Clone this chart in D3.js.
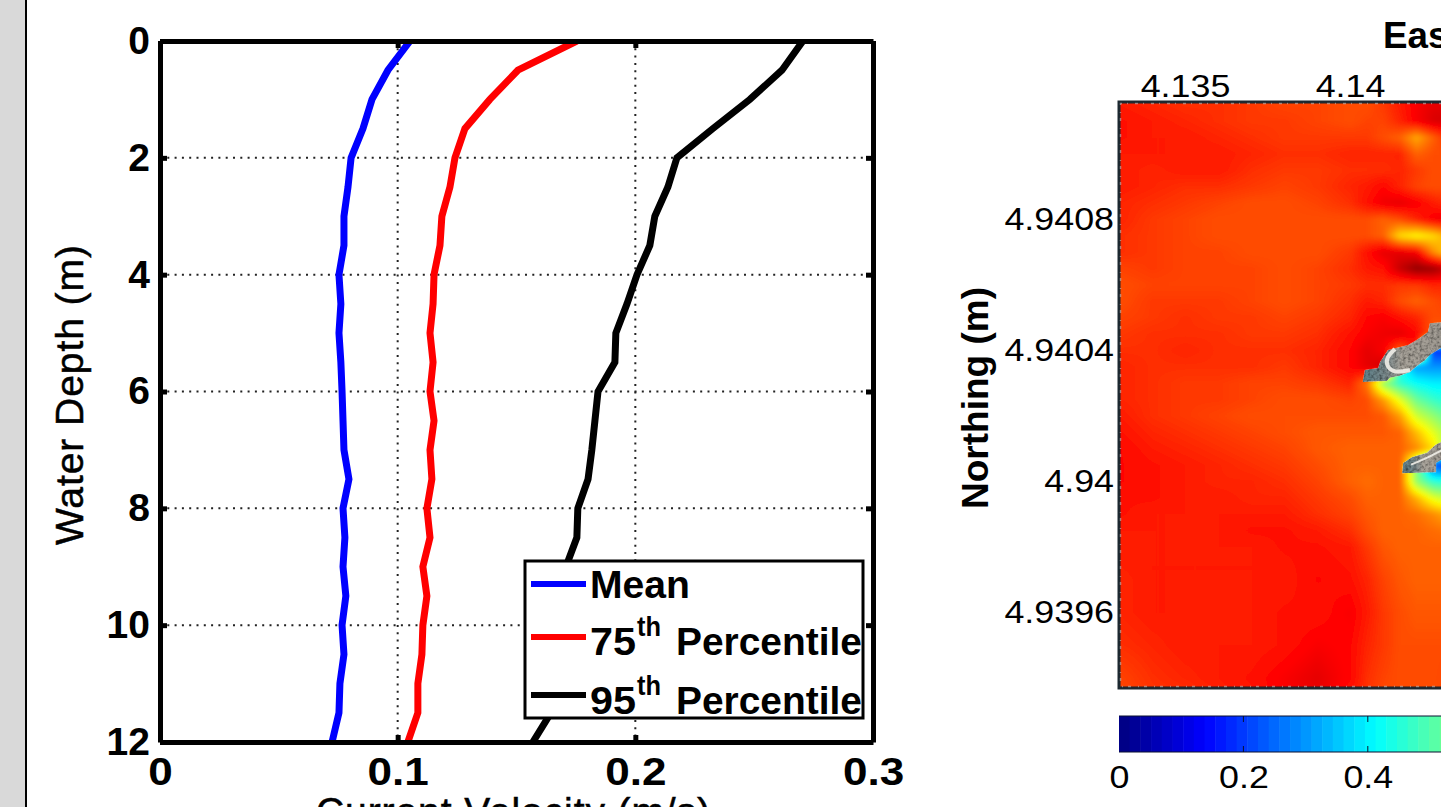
<!DOCTYPE html>
<html>
<head>
<meta charset="utf-8">
<script src="https://cdn.jsdelivr.net/npm/d3@7/dist/d3.min.js"></script>
<style>
  html, body { margin: 0; padding: 0; background: #fff; overflow: hidden; }
  svg { display: block; font-family: "Liberation Sans", Arial, sans-serif; }
  .bold text { font-weight: bold; }
</style>
</head>
<body>
<svg id="fig" width="1441" height="807"></svg>
<script>
////////////////////////////////////////////////////////////////////////////////
// Left: current velocity profiles. Right: velocity map with colorbar
////////////////////////////////////////////////////////////////////////////////

// Profile data, one value per 0.5 m of depth
const depths = [0, 0.5, 1, 1.5, 2, 2.5, 3, 3.5, 4, 4.5, 5, 5.5, 6, 6.5, 7, 7.5, 8, 8.5, 9, 9.5, 10, 10.5, 11, 11.5, 12];
const meanVel = [.1052, .0959, .0892, .0854, .0804, .0791, .0774, .0774, .0753, .0761, .0753, .0761, .0766, .0770, .0774, .0795, .0770, .0778, .0770, .0782, .0766, .0774, .0757, .0753, .0724];
const p75Vel = [.1754, .1506, .1388, .1283, .1241, .1220, .1186, .1178, .1153, .1149, .1136, .1149, .1136, .1153, .1136, .1144, .1123, .1136, .1106, .1123, .1106, .1102, .1085, .1085, .1043];
const p95Vel = [.2705, .2617, .2482, .2326, .2175, .2137, .2082, .2061, .2007, .1965, .1918, .1914, .1843, .1830, .1817, .1801, .1758, .1754, .1708, .1695, .1683, .1670, .1666, .1645, .1569];
const velTicks = [0, 0.1, 0.2, 0.3];
const depthTicks = [0, 2, 4, 6, 8, 10, 12];

// Map data, rows run north to south
const mapEasting = [413300, 413400, 413500, 413600, 413700, 413800, 413900, 414000, 414050, 414100, 414150, 414200, 414250, 414300];
const mapNorthing = [4941200, 4941150, 4941100, 4941050, 4941000, 4940950, 4940900, 4940850, 4940800, 4940750, 4940700, 4940650, 4940600, 4940550, 4940500, 4940450, 4940400, 4940350, 4940300, 4940250, 4940200, 4940150, 4940100, 4940050, 4940000, 4939950, 4939900, 4939850, 4939800, 4939700, 4939600, 4939500, 4939400, 4939300];
const mapValues = [
  [.84, .84, .83, .83, .82, .81, .81, .80, .80, .81, .84, .88, .90, .90],
  [.85, .84, .83, .83, .82, .81, .81, .80, .80, .82, .85, .88, .90, .90],
  [.86, .85, .84, .83, .82, .82, .81, .80, .81, .81, .84, .88, .91, .92],
  [.86, .85, .85, .84, .83, .82, .82, .82, .82, .80, .78, .71, .78, .84],
  [.85, .85, .85, .85, .84, .83, .83, .84, .84, .84, .84, .78, .80, .80],
  [.85, .84, .85, .85, .83, .82, .82, .83, .83, .83, .84, .82, .80, .80],
  [.85, .84, .83, .83, .82, .81, .82, .84, .85, .87, .84, .81, .80, .80],
  [.84, .83, .82, .81, .80, .80, .81, .83, .86, .89, .90, .88, .85, .83],
  [.84, .82, .81, .80, .80, .80, .80, .80, .80, .78, .80, .84, .88, .90],
  [.83, .82, .81, .80, .80, .80, .80, .80, .80, .78, .66, .63, .66, .72],
  [.83, .82, .81, .81, .80, .80, .80, .82, .86, .90, .90, .88, .74, .66],
  [.81, .82, .81, .81, .81, .80, .81, .83, .85, .86, .93, .98, .97, .92],
  [.80, .81, .81, .81, .81, .80, .81, .82, .83, .83, .82, .82, .84, .84],
  [.80, .82, .82, .82, .81, .80, .81, .83, .85, .84, .80, .78, .80, .82],
  [.81, .82, .83, .82, .82, .81, .82, .84, .87, .88, .86, .84, .80, .80],
  [.82, .83, .83, .83, .82, .82, .83, .86, .88, .89, .90, .87, .78, .78],
  [.83, .83, .84, .83, .83, .83, .84, .87, .90, .88, .78, .86, .18, .16],
  [.84, .83, .83, .83, .83, .82, .84, .87, .90, .92, .40, .28, .27, .27],
  [.84, .83, .82, .82, .81, .81, .82, .84, .76, .52, .42, .38, .36, .36],
  [.84, .83, .82, .82, .81, .80, .80, .81, .80, .72, .60, .48, .43, .40],
  [.85, .83, .82, .81, .80, .80, .80, .80, .80, .79, .72, .58, .52, .46],
  [.86, .84, .83, .82, .81, .80, .79, .79, .79, .79, .78, .69, .60, .52],
  [.87, .85, .84, .83, .82, .81, .79, .78, .78, .78, .78, .74, .66, .50],
  [.87, .86, .85, .84, .83, .82, .80, .78, .78, .78, .78, .50, .22, .14],
  [.87, .86, .85, .84, .84, .83, .81, .78, .77, .78, .78, .52, .42, .40],
  [.86, .86, .85, .85, .84, .84, .82, .80, .78, .78, .78, .70, .60, .55],
  [.86, .85, .85, .85, .85, .85, .83, .81, .79, .78, .78, .77, .74, .70],
  [.85, .85, .85, .85, .86, .86, .85, .83, .80, .78, .78, .78, .77, .76],
  [.85, .85, .85, .85, .85, .86, .86, .85, .82, .79, .78, .78, .78, .78],
  [.84, .85, .85, .85, .85, .85, .87, .86, .84, .81, .79, .78, .78, .78],
  [.84, .85, .85, .85, .85, .86, .86, .88, .85, .82, .80, .79, .79, .79],
  [.83, .84, .85, .85, .85, .86, .88, .87, .84, .82, .80, .80, .80, .80],
  [.81, .83, .84, .85, .86, .88, .90, .87, .83, .81, .80, .80, .80, .81],
  [.80, .82, .82, .84, .85, .88, .89, .85, .82, .80, .80, .80, .80, .80]
];
const eastTicks = [413500, 414000];
const northTicks = [4940800, 4940400, 4940000, 4939600];
const barTicks = [0, 0.2, 0.4];

// Breakwaters as [easting, northing]
const rockUpper = [[414039, 4940308], [414045, 4940339], [414085, 4940345], [414091, 4940363], [414115, 4940400], [414176, 4940415], [414203, 4940431], [414236, 4940455], [414242, 4940482], [414276, 4940485], [414300, 4940498], [414300, 4940420], [414276, 4940406], [414242, 4940385], [414227, 4940369], [414203, 4940351], [414182, 4940333], [414152, 4940321], [414121, 4940315], [414112, 4940305], [414039, 4940302]];
const rockLower = [[414158, 4940027], [414161, 4940055], [414188, 4940073], [414233, 4940086], [414258, 4940110], [414276, 4940119], [414300, 4940131], [414300, 4940079], [414276, 4940064], [414261, 4940055], [414261, 4940027], [414158, 4940024]];
const rockCrestUpper = [[414136, 4940403], [414109, 4940376], [414112, 4940348], [414136, 4940330], [414182, 4940339]];
const rockCrestLower = [[414185, 4940050], [414230, 4940068], [414300, 4940105]];

// Jet colormap
const jet = d3.scaleLinear()
  .domain([0, 0.125, 0.375, 0.625, 0.875, 1])
  .range(["#00007f", "#0000ff", "#00ffff", "#ffff00", "#ff0000", "#7f0000"])
  .clamp(true);

const svg = d3.select("#fig");

// Grey strip at the left edge of the page
svg.append("rect").attr("width", 25).attr("height", 807).attr("fill", "#d9d9d9");
svg.append("rect").attr("x", 25).attr("width", 2).attr("height", 807).attr("fill", "#000");

////////////////////////////////////////////////////////////////////////////////
// Left panel
////////////////////////////////////////////////////////////////////////////////
const x = d3.scaleLinear().domain([0, 0.3]).range([160, 873]);
const y = d3.scaleLinear().domain([0, 12]).range([41, 742]);

const defs = svg.append("defs");
defs.append("clipPath").attr("id", "plotClip").append("rect")
  .attr("x", x(0)).attr("y", y(0)).attr("width", x(0.3) - x(0)).attr("height", y(12) - y(0));

// Dotted grid
svg.append("g").selectAll("line").data(velTicks.slice(1, 3)).join("line")
  .attr("x1", d => x(d)).attr("x2", d => x(d)).attr("y1", y(0)).attr("y2", y(12))
  .attr("stroke", "#222").attr("stroke-width", 2).attr("stroke-dasharray", "2 5.3");
svg.append("g").selectAll("line").data(depthTicks.slice(1, 6)).join("line")
  .attr("x1", x(0)).attr("x2", x(0.3)).attr("y1", d => y(d)).attr("y2", d => y(d))
  .attr("stroke", "#222").attr("stroke-width", 2).attr("stroke-dasharray", "2 5.3");

const profile = d3.line().x(d => x(d[0])).y(d => y(d[1]));
const profiles = [
  { label: "Mean", values: meanVel, color: "#0000ff" },
  { label: "75", values: p75Vel, color: "#ff0000" },
  { label: "95", values: p95Vel, color: "#000000" }
];
svg.append("g").attr("clip-path", "url(#plotClip)")
  .selectAll("path").data(profiles).join("path")
  .attr("fill", "none")
  .attr("stroke", d => d.color)
  .attr("stroke-width", 7)
  .attr("d", d => profile(d.values.map((v, i) => [v, depths[i]])));

// Axes, the labelled ones plus a bare top and right
function styleAxis(g, size) {
  g.selectAll(".domain").attr("stroke", "#000").attr("stroke-width", 5);
  g.selectAll(".tick line").attr("stroke", "#000").attr("stroke-width", 5);
  g.selectAll("text").attr("fill", "#000").attr("font-size", size).attr("font-family", "Liberation Sans");
}
const axisLeft = svg.append("g").attr("class", "bold").attr("transform", `translate(${x(0)},0)`)
  .call(d3.axisLeft(y).tickValues(depthTicks).tickSizeInner(-7).tickSizeOuter(0).tickPadding(10).tickFormat(d => d));
const axisBottom = svg.append("g").attr("class", "bold").attr("transform", `translate(0,${y(12)})`)
  .call(d3.axisBottom(x).tickValues(velTicks).tickSizeInner(-7).tickSizeOuter(0).tickPadding(15).tickFormat(d => d));
const axisTop = svg.append("g").attr("transform", `translate(0,${y(0)})`)
  .call(d3.axisTop(x).tickValues(velTicks).tickSizeInner(-7).tickSizeOuter(0).tickFormat(""));
const axisRight = svg.append("g").attr("transform", `translate(${x(0.3)},0)`)
  .call(d3.axisRight(y).tickValues(depthTicks).tickSizeInner(-7).tickSizeOuter(0).tickFormat(""));
[axisLeft, axisBottom, axisTop, axisRight].forEach(g => styleAxis(g, 39));
// velocity labels run wider than the depth ones in the figure
axisBottom.selectAll("text").each(function () {
  d3.select(this).attr("textLength", this.getComputedTextLength() * 1.13).attr("lengthAdjust", "spacingAndGlyphs");
});

svg.append("text")
  .attr("transform", "translate(83,395) rotate(-90)")
  .attr("text-anchor", "middle")
  .attr("font-size", 39)
  .attr("stroke", "#000").attr("stroke-width", 0.5)
  .attr("textLength", 300)
  .text("Water Depth (m)");
svg.append("text")
  .attr("x", 513).attr("y", 825)
  .attr("text-anchor", "middle")
  .attr("font-size", 39)
  .attr("stroke", "#000").attr("stroke-width", 0.5)
  .attr("textLength", 394)
  .text("Current Velocity (m/s)");

// Legend
const legend = svg.append("g").attr("class", "bold");
legend.append("rect")
  .attr("x", 525).attr("y", 561).attr("width", 338).attr("height", 157)
  .attr("fill", "#fff").attr("stroke", "#000").attr("stroke-width", 3);
const legendRows = [23, 76, 134];
profiles.forEach((p, i) => {
  legend.append("line")
    .attr("x1", 531).attr("x2", 586)
    .attr("y1", 561 + legendRows[i]).attr("y2", 561 + legendRows[i])
    .attr("stroke", p.color).attr("stroke-width", 6);
});
const legendText = legend.append("g").attr("font-size", 38);
legendText.append("text").attr("x", 590).attr("y", 598)
  .attr("textLength", 100).attr("lengthAdjust", "spacingAndGlyphs").text("Mean");
[[profiles[1].label, 655], [profiles[2].label, 714]].forEach(([num, base]) => {
  legendText.append("text").attr("x", 590).attr("y", base)
    .attr("textLength", 46).attr("lengthAdjust", "spacingAndGlyphs").text(num);
  legendText.append("text").attr("x", 637).attr("y", base - 19).attr("font-size", 28)
    .attr("textLength", 24).attr("lengthAdjust", "spacingAndGlyphs").text("th");
  legendText.append("text").attr("x", 676).attr("y", base)
    .attr("textLength", 186).attr("lengthAdjust", "spacingAndGlyphs").text("Percentile");
});

////////////////////////////////////////////////////////////////////////////////
// Right panel
////////////////////////////////////////////////////////////////////////////////
const east = d3.scaleLinear().domain([413500, 414000]).range([1185, 1350]);
const north = d3.scaleLinear().domain([4940800, 4940400]).range([219, 350]);
const mapBox = { x0: 1119, x1: 1449, y0: 102, y1: 688 };
const bleed = 10; // painted past the clip so the blur has no soft edge

// Bilinear lookup on the uneven grid
function mapValueAt(e, n) {
  const i = Math.max(0, Math.min(mapEasting.length - 2, d3.bisectRight(mapEasting, e) - 1));
  let j = 0;
  while (j < mapNorthing.length - 2 && mapNorthing[j + 1] > n) j++;
  const tx = Math.max(0, (e - mapEasting[i]) / (mapEasting[i + 1] - mapEasting[i]));
  const ty = (mapNorthing[j] - n) / (mapNorthing[j] - mapNorthing[j + 1]);
  const top = mapValues[j][i] * (1 - tx) + mapValues[j][i + 1] * tx;
  const bot = mapValues[j + 1][i] * (1 - tx) + mapValues[j + 1][i + 1] * tx;
  return top * (1 - ty) + bot * ty;
}

// Paint the field on a canvas and hand it to the svg as an image
const canvas = document.createElement("canvas");
canvas.width = mapBox.x1 - mapBox.x0 + 2 * bleed;
canvas.height = mapBox.y1 - mapBox.y0 + 2 * bleed;
const ctx = canvas.getContext("2d");
const pixels = ctx.createImageData(canvas.width, canvas.height);
for (let py = 0; py < canvas.height; py++) {
  for (let px = 0; px < canvas.width; px++) {
    const v = mapValueAt(east.invert(mapBox.x0 - bleed + px), north.invert(mapBox.y0 - bleed + py));
    const c = d3.rgb(jet(v));
    const k = (py * canvas.width + px) * 4;
    pixels.data[k] = c.r;
    pixels.data[k + 1] = c.g;
    pixels.data[k + 2] = c.b;
    pixels.data[k + 3] = 255;
  }
}
ctx.putImageData(pixels, 0, 0);

defs.append("clipPath").attr("id", "mapClip").append("rect")
  .attr("x", mapBox.x0).attr("y", mapBox.y0)
  .attr("width", mapBox.x1 - mapBox.x0).attr("height", mapBox.y1 - mapBox.y0);
defs.append("filter").attr("id", "soft").append("feGaussianBlur").attr("stdDeviation", 2.2);
defs.append("filter").attr("id", "softLine").append("feGaussianBlur").attr("stdDeviation", 0.7);
svg.append("g").attr("clip-path", "url(#mapClip)")
  .append("image")
  .attr("x", mapBox.x0 - bleed).attr("y", mapBox.y0 - bleed)
  .attr("width", canvas.width).attr("height", canvas.height)
  .attr("href", canvas.toDataURL())
  .attr("filter", "url(#soft)");

// Rock texture for the breakwaters
const rockGrad = defs.append("linearGradient").attr("id", "rockFill");
rockGrad.append("stop").attr("offset", "0%").attr("stop-color", "#5d7f88");
rockGrad.append("stop").attr("offset", "28%").attr("stop-color", "#7c8a8c");
rockGrad.append("stop").attr("offset", "45%").attr("stop-color", "#a8a39a");
rockGrad.append("stop").attr("offset", "100%").attr("stop-color", "#a09a92");
const rockFilter = defs.append("filter").attr("id", "rockTex")
  .attr("x", "0").attr("y", "0").attr("width", "100%").attr("height", "100%");
rockFilter.append("feTurbulence")
  .attr("type", "fractalNoise").attr("baseFrequency", 0.35).attr("numOctaves", 2).attr("seed", 4).attr("result", "n");
rockFilter.append("feColorMatrix").attr("in", "n").attr("type", "matrix")
  .attr("values", "1.6 0 0 0 0 1.6 0 0 0 0 1.6 0 0 0 0 0 0 0 0 1").attr("result", "g");
rockFilter.append("feBlend").attr("in", "SourceGraphic").attr("in2", "g").attr("mode", "multiply").attr("result", "b");
rockFilter.append("feComposite").attr("in", "b").attr("in2", "SourceAlpha").attr("operator", "in");

const rockLine = d3.line().x(d => east(d[0])).y(d => north(d[1]));
svg.append("g").selectAll("path").data([rockUpper, rockLower]).join("path")
  .attr("d", d => rockLine(d) + "Z")
  .attr("fill", "url(#rockFill)")
  .attr("filter", "url(#rockTex)");
svg.append("g").attr("filter", "url(#softLine)").selectAll("path").data([rockCrestUpper, rockCrestLower]).join("path")
  .attr("d", d3.line().x(d => east(d[0])).y(d => north(d[1])).curve(d3.curveBasis))
  .attr("fill", "none")
  .attr("stroke", "#f1eee8")
  .attr("stroke-width", (d, i) => i === 0 ? 4 : 2)
  .attr("stroke-opacity", 0.9);

// Map border with the scan speckle along it
svg.append("path")
  .attr("d", `M1442,102H${mapBox.x0}V688H1442`)
  .attr("fill", "none").attr("stroke", "#1c2830").attr("stroke-width", 3);
svg.append("path")
  .attr("d", `M1442,103.5H${mapBox.x0 + 1.5}V686.5H1442`)
  .attr("fill", "none").attr("stroke", "#c8c8c8").attr("stroke-width", 1.5)
  .attr("stroke-opacity", 0.55).attr("stroke-dasharray", "3 7 1 5");

// Map axes, labels only
function styleMapAxis(g) {
  g.selectAll(".domain").remove();
  g.selectAll("text").attr("fill", "#000").attr("font-size", 32).attr("font-family", "Liberation Sans");
  // the figure was stretched sideways, so the labels are too
  g.selectAll("text").each(function () {
    const t = d3.select(this);
    t.attr("textLength", this.getComputedTextLength() * 1.12).attr("lengthAdjust", "spacingAndGlyphs");
  });
}
svg.append("g").attr("transform", "translate(0,101)")
  .call(d3.axisTop(east).tickValues(eastTicks).tickSize(0).tickPadding(4).tickFormat(d => String(d / 1e5)))
  .call(styleMapAxis);
svg.append("g").attr("transform", "translate(1118,0)")
  .call(d3.axisLeft(north).tickValues(northTicks).tickSize(0).tickPadding(4).tickFormat(d => String(d / 1e6)))
  .call(styleMapAxis);

svg.append("text")
  .attr("x", 1383).attr("y", 48)
  .attr("font-size", 37).attr("font-weight", "bold")
  .each(function () { d3.select(this).text("Easting (m)"); })
  .attr("textLength", 200).attr("lengthAdjust", "spacingAndGlyphs");
svg.append("text")
  .attr("transform", "translate(988,398) rotate(-90)")
  .attr("text-anchor", "middle")
  .attr("font-size", 37).attr("font-weight", "bold")
  .text("Northing (m)");

// Colorbar, 64 discrete jet levels. The jet runs on past the 1.0 mark of the axis
const bar = d3.scaleLinear().domain([0, 1]).range([1119, 1741]);
const barTop = 1.1;
const levels = d3.range(64);
svg.append("g").selectAll("rect").data(levels).join("rect")
  .attr("x", d => bar(d / 64 * barTop))
  .attr("y", 716)
  .attr("width", bar(barTop / 64) - bar(0) + 0.5)
  .attr("height", 36)
  .attr("fill", d => jet((d + 0.5) / 64));
svg.append("path")
  .attr("d", "M1442,716H1119M1119,752H1442")
  .attr("fill", "none").attr("stroke", "#0a1030").attr("stroke-width", 1);
svg.append("g").attr("transform", "translate(0,752)")
  .call(d3.axisBottom(bar).tickValues(barTicks).tickSize(0).tickPadding(13).tickFormat(d => d))
  .call(styleMapAxis);
svg.append("g").selectAll("line").data(barTicks.slice(1).flatMap(d => [[d, 716, 722], [d, 746, 752]])).join("line")
  .attr("x1", d => bar(d[0])).attr("x2", d => bar(d[0]))
  .attr("y1", d => d[1]).attr("y2", d => d[2])
  .attr("stroke", "#0a1030").attr("stroke-width", 1);
</script>
</body>
</html>
